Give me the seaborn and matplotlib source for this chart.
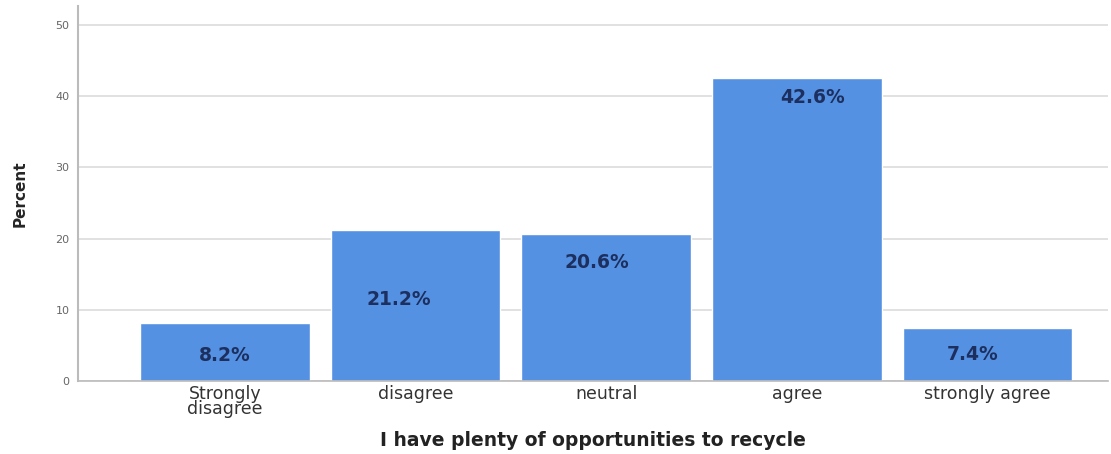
import pandas as pd
import matplotlib.pyplot as plt
import seaborn as sns

categories = ['Strongly\ndisagree', 'disagree', 'neutral', 'agree', 'strongly agree']
percent = [8.2, 21.2, 20.6, 42.6, 7.4]
value_labels = ['8.2%', '21.2%', '20.6%', '42.6%', '7.4%']

# SPSS-style label placement (y in data units, x offset in bar units)
label_y = [3.6, 11.5, 16.7, 39.9, 3.7]
label_dx = [0.0, -0.085, -0.05, 0.08, -0.08]

sns.set_style('white')
plt.rcParams['font.family'] = ['DejaVu Sans']

df = pd.DataFrame({'cat': categories, 'pct': percent})

fig = plt.figure(figsize=(11.11, 4.54), dpi=100)
ax = fig.add_axes([0.0702, 0.1608, 0.9268, 0.8262])

ax.yaxis.grid(True, color='#dcdcdc', linewidth=1.2)
ax.set_axisbelow(True)
sns.barplot(data=df, x='cat', y='pct', color='#5591e2', saturation=1,
            width=0.89, ax=ax)

for i, lab in enumerate(value_labels):
    ax.text(i + label_dx[i], label_y[i], lab, ha='center', va='center',
            fontsize=13.5, fontweight='bold', color='#1c2f5e')

ax.set_xlim(-0.77, 4.63)
ax.set_ylim(0, 52.7)
ax.set_yticks([0, 10, 20, 30, 40, 50])
ax.tick_params(axis='y', labelsize=8, colors='#666666', length=0, pad=6)
ax.tick_params(axis='x', labelsize=12.5, colors='#333333', length=0, pad=3)
for lab in ax.get_xticklabels():
    lab.set_linespacing(0.8)

for side in ['top', 'right']:
    ax.spines[side].set_visible(False)
ax.spines['left'].set_color('#bbbbbb')
ax.spines['left'].set_linewidth(1.5)
ax.spines['bottom'].set_color('#bbbbbb')
ax.spines['bottom'].set_linewidth(1.2)

ax.set_ylabel('Percent', fontsize=11, fontweight='bold', family=['Liberation Sans Narrow', 'DejaVu Sans'], labelpad=20)
ax.set_xlabel('I have plenty of opportunities to recycle', fontsize=13.5, fontweight='bold', color='#222222', labelpad=9)

fig.savefig('out.png', dpi=100)
